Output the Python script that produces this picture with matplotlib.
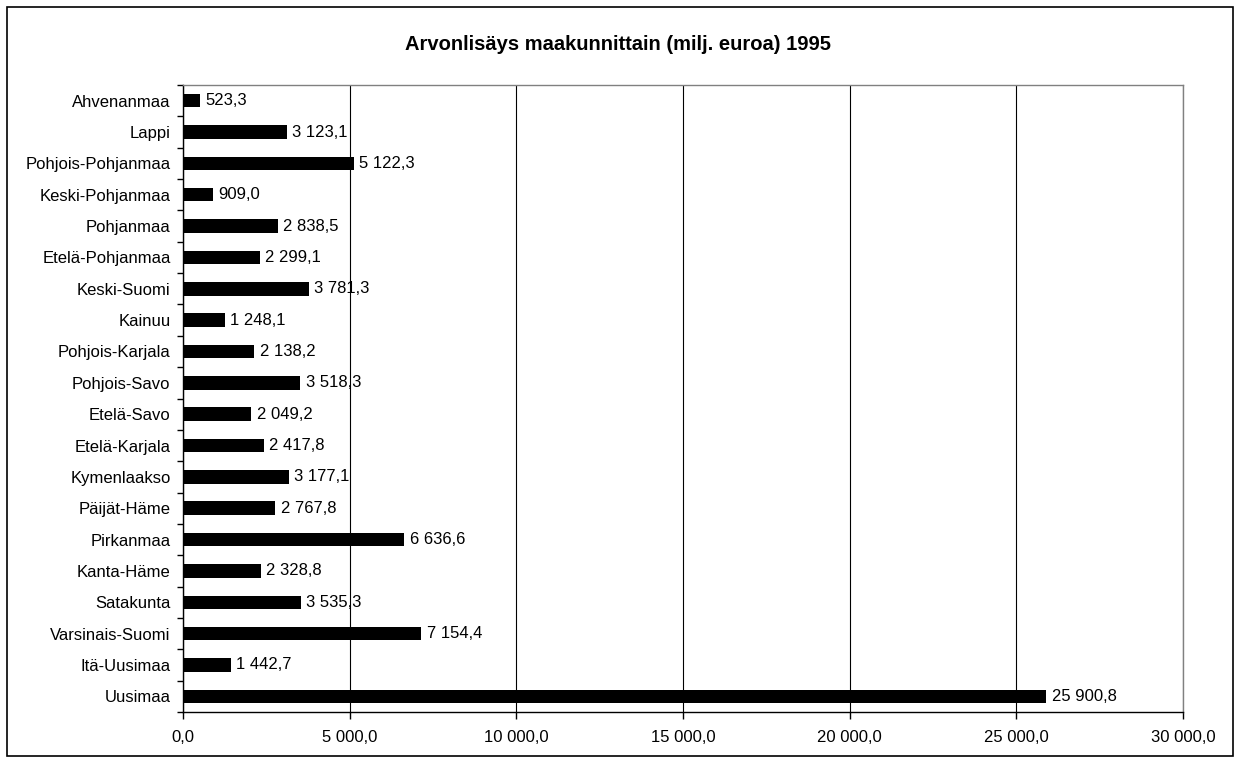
import matplotlib.pyplot as plt
from matplotlib.patches import Rectangle
import numpy as np

plt.rcParams['font.family'] = ['Liberation Sans', 'DejaVu Sans']

# Maakunnat alhaalta ylös
maakunnat = ["Uusimaa", "Itä-Uusimaa", "Varsinais-Suomi", "Satakunta", "Kanta-Häme",
             "Pirkanmaa", "Päijät-Häme", "Kymenlaakso", "Etelä-Karjala", "Etelä-Savo",
             "Pohjois-Savo", "Pohjois-Karjala", "Kainuu", "Keski-Suomi", "Etelä-Pohjanmaa",
             "Pohjanmaa", "Keski-Pohjanmaa", "Pohjois-Pohjanmaa", "Lappi", "Ahvenanmaa"]
arvot = [25900.8, 1442.7, 7154.4, 3535.3, 2328.8,
         6636.6, 2767.8, 3177.1, 2417.8, 2049.2,
         3518.3, 2138.2, 1248.1, 3781.3, 2299.1,
         2838.5, 909.0, 5122.3, 3123.1, 523.3]
x_ticks = [0, 5000, 10000, 15000, 20000, 25000, 30000]


def fi(v):
    # suomalainen muotoilu: välilyönti tuhaterottimena, pilkku desimaalina
    return f"{v:,.1f}".replace(",", " ").replace(".", ",")


fig = plt.figure(figsize=(12.36, 7.6), dpi=100)
ax = fig.add_axes([183 / 1236, 1 - 712 / 760, 1000 / 1236, 627 / 760])

y = np.arange(len(maakunnat))
ax.barh(y, arvot, height=0.43, color='black', zorder=3)

for yi, v in zip(y, arvot):
    ax.text(v + 160, yi, fi(v), va='center', ha='left', fontsize=12, zorder=4)

ax.set_xlim(0, 30000)
ax.set_ylim(-0.5, len(maakunnat) - 0.5)
ax.set_xticks(x_ticks)
ax.set_xticklabels([fi(t) for t in x_ticks], fontsize=12)
ax.set_yticks(y)
ax.set_yticklabels(maakunnat, fontsize=12)
ax.set_yticks(np.arange(len(maakunnat) + 1) - 0.5, minor=True)
ax.tick_params(axis='y', which='major', length=0, pad=9)
ax.tick_params(axis='y', which='minor', length=4, width=1, direction='out')
ax.tick_params(axis='x', length=5, width=1, direction='out', pad=8)

ax.grid(axis='x', color='black', linewidth=0.8, zorder=0)
ax.spines['left'].set_color('black')
ax.spines['bottom'].set_color('black')
ax.spines['top'].set_color('#808080')
ax.spines['right'].set_color('#808080')
for s in ax.spines.values():
    s.set_linewidth(1)

fig.text(0.5, 1 - 44 / 760, "Arvonlisäys maakunnittain (milj. euroa) 1995",
         ha='center', va='center', fontsize=14.5, fontweight='bold')

# kehys kuvan ympärille
fig.patches.append(Rectangle((7 / 1236, 4 / 760), 1226 / 1236, 749 / 760,
                             transform=fig.transFigure, fill=False,
                             edgecolor='black', linewidth=1.2))

fig.savefig("out.png", dpi=100)
